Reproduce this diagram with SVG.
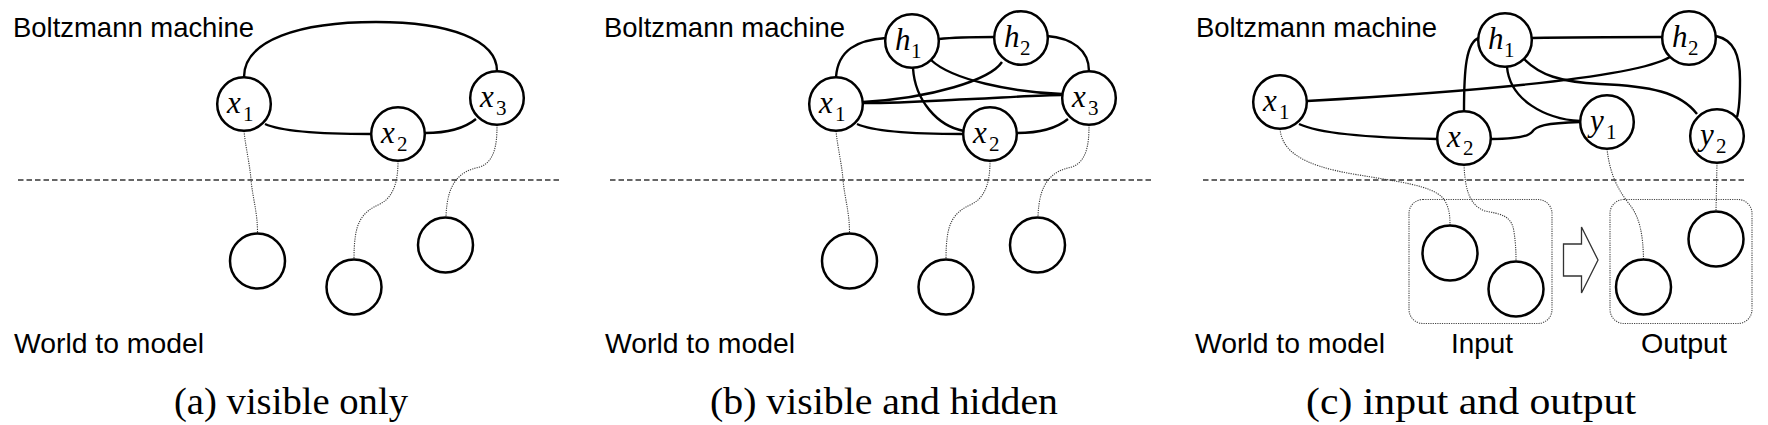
<svg xmlns="http://www.w3.org/2000/svg" width="1768" height="425" viewBox="0 0 1768 425">
<style>
.bg{fill:#fff}
.n{fill:#fff;stroke:#000;stroke-width:2.5}
.e{fill:none;stroke:#000;stroke-width:2.4}
.d{fill:none;stroke:#3a3a3a;stroke-width:1.1;stroke-dasharray:1.2 1.1}
.dash{fill:none;stroke:#666;stroke-width:2;stroke-dasharray:5.5 3}
.box{fill:none;stroke:#444;stroke-width:1.1;stroke-dasharray:1.2 1.1}
.lbl{font-family:'Liberation Sans',Arial,sans-serif;font-size:28px;fill:#000}
.cap{font-family:'Liberation Serif','Times New Roman',serif;font-size:37px;fill:#000}
.v{font-family:'Liberation Serif','Times New Roman',serif;font-style:italic;font-size:31px;fill:#000}
.s{font-style:normal;font-size:21px}
.arr{fill:#fff;stroke:#333;stroke-width:1.3}
</style>
<rect class="bg" x="0" y="0" width="1768" height="425"/>

<!-- Panel (a) -->
<g id="panel-a">
  <text class="lbl" x="13" y="37" textLength="241" lengthAdjust="spacingAndGlyphs">Boltzmann machine</text>
  <text class="lbl" x="14" y="353" textLength="190" lengthAdjust="spacingAndGlyphs">World to model</text>
  <line class="dash" x1="18" y1="180" x2="562" y2="180"/>
  <g id="a-connectors">
    <path class="e" d="M 244 77 C 244 40, 300 22, 376 22 C 450 22, 497 40, 497 71"/>
    <path class="e" d="M 265 124 C 280 131, 320 134, 371 134"/>
    <path class="e" d="M 425 133 C 450 133, 465 128, 476 119"/>
    <path class="d" d="M 244 131 C 246 150, 250 165, 251 180 C 253 200, 257.5 212, 257.5 233"/>
    <path class="d" d="M 398 161 C 398 176, 396 196, 380 204 C 360 213, 354 224, 354 259"/>
    <path class="d" d="M 497 125 C 497 141, 496 161, 480 167 C 460 171, 447 182, 446 217"/>
  </g>
  <g id="a-x1"><circle class="n" cx="244" cy="104" r="26.8"/><text class="v" x="227" y="113">x<tspan class="s" x="243" y="120.5">1</tspan></text></g>
  <g id="a-x2"><circle class="n" cx="398" cy="134" r="26.8"/><text class="v" x="381" y="143">x<tspan class="s" x="397" y="150.5">2</tspan></text></g>
  <g id="a-x3"><circle class="n" cx="497" cy="98" r="26.8"/><text class="v" x="480" y="107">x<tspan class="s" x="496" y="114.5">3</tspan></text></g>
  <g id="a-w1"><circle class="n" cx="257.5" cy="261" r="27.5"/></g>
  <g id="a-w2"><circle class="n" cx="354" cy="287" r="27.5"/></g>
  <g id="a-w3"><circle class="n" cx="445.5" cy="245" r="27.5"/></g>
  <text class="cap" x="174" y="414" textLength="234" lengthAdjust="spacingAndGlyphs">(a) visible only</text>
</g>

<!-- Panel (b) -->
<g id="panel-b" transform="translate(592,0)">
  <text class="lbl" x="12" y="37" textLength="241" lengthAdjust="spacingAndGlyphs">Boltzmann machine</text>
  <text class="lbl" x="13" y="353" textLength="190" lengthAdjust="spacingAndGlyphs">World to model</text>
  <line class="dash" x1="18" y1="180" x2="562" y2="180"/>
  <g id="b-connectors">
    <path class="e" d="M 244 77 C 246 50, 265 40, 294 38"/>
    <path class="e" d="M 347 39 C 365 37, 385 37, 403 37"/>
    <path class="e" d="M 455 36 C 480 38, 497 50, 497 71"/>
    <path class="e" d="M 321 68 C 323 100, 345 126, 372 131"/>
    <path class="e" d="M 339 60 C 360 80, 420 92, 470 94"/>
    <path class="e" d="M 410 62 C 398 80, 340 98, 271 102"/>
    <path class="e" d="M 271 103 C 320 103, 350 100, 380 99 C 420 97, 450 95, 470 95"/>
    <path class="e" d="M 265 124 C 280 131, 320 134, 371 134"/>
    <path class="e" d="M 425 133 C 450 133, 465 128, 476 119"/>
    <path class="d" d="M 244 131 C 246 150, 250 165, 251 180 C 253 200, 257.5 212, 257.5 233"/>
    <path class="d" d="M 398 161 C 398 176, 396 196, 380 204 C 360 213, 354 224, 354 259"/>
    <path class="d" d="M 497 125 C 497 141, 496 161, 480 167 C 460 171, 447 182, 446 217"/>
  </g>
  <g id="b-h1"><circle class="n" cx="320" cy="41" r="26.8"/><text class="v" x="303" y="50">h<tspan class="s" x="319" y="57.5">1</tspan></text></g>
  <g id="b-h2"><circle class="n" cx="429" cy="38" r="26.8"/><text class="v" x="412" y="47">h<tspan class="s" x="428" y="54.5">2</tspan></text></g>
  <g id="b-x1"><circle class="n" cx="244" cy="104" r="26.8"/><text class="v" x="227" y="113">x<tspan class="s" x="243" y="120.5">1</tspan></text></g>
  <g id="b-x2"><circle class="n" cx="398" cy="134" r="26.8"/><text class="v" x="381" y="143">x<tspan class="s" x="397" y="150.5">2</tspan></text></g>
  <g id="b-x3"><circle class="n" cx="497" cy="98" r="26.8"/><text class="v" x="480" y="107">x<tspan class="s" x="496" y="114.5">3</tspan></text></g>
  <g id="b-w1"><circle class="n" cx="257.5" cy="261" r="27.5"/></g>
  <g id="b-w2"><circle class="n" cx="354" cy="287" r="27.5"/></g>
  <g id="b-w3"><circle class="n" cx="445.5" cy="245" r="27.5"/></g>
  <text class="cap" x="118" y="414" textLength="348" lengthAdjust="spacingAndGlyphs">(b) visible and hidden</text>
</g>

<!-- Panel (c) -->
<g id="panel-c">
  <text class="lbl" x="1196" y="37" textLength="241" lengthAdjust="spacingAndGlyphs">Boltzmann machine</text>
  <text class="lbl" x="1195" y="353" textLength="190" lengthAdjust="spacingAndGlyphs">World to model</text>
  <text class="lbl" x="1451" y="353" textLength="62" lengthAdjust="spacingAndGlyphs">Input</text>
  <text class="lbl" x="1641" y="353" textLength="86" lengthAdjust="spacingAndGlyphs">Output</text>
  <line class="dash" x1="1203" y1="180" x2="1747" y2="180"/>
  <g id="c-groups">
    <rect id="c-input-box" class="box" x="1409" y="199.5" width="143" height="124" rx="14"/>
    <rect id="c-output-box" class="box" x="1610" y="199.5" width="142" height="124" rx="14"/>
    <polygon id="c-arrow" class="arr" points="1563.5,244 1581.5,244 1581.5,227 1598,260 1581.5,293 1581.5,276 1563.5,276"/>
  </g>
  <g id="c-connectors">
    <path class="e" d="M 1479 38 C 1466 42, 1464 70, 1464 111"/>
    <path class="e" d="M 1532 38 C 1580 37, 1620 37, 1662 37"/>
    <path class="e" d="M 1716 36 C 1734 40, 1740 55, 1740 80 C 1740 100, 1739 110, 1737 117"/>
    <path class="e" d="M 1507 67 C 1510 100, 1545 119, 1580 121"/>
    <path class="e" d="M 1524 59 C 1540 75, 1560 82, 1600 84 C 1650 86, 1680 92, 1697 114"/>
    <path class="e" d="M 1670 57 C 1640 75, 1500 90, 1307 101"/>
    <path class="e" d="M 1299 124 C 1320 134, 1380 138, 1437 139"/>
    <path class="e" d="M 1491 139 C 1510 139, 1528 137, 1532 132 C 1536 126, 1545 123, 1580 122"/>
    <path class="d" d="M 1280 129 C 1282 150, 1300 165, 1353 174 C 1400 182, 1430 185, 1443 198 C 1449 206, 1450 215, 1450 225"/>
    <path class="d" d="M 1464 165 C 1465 186, 1468 205, 1485 211 C 1500 214, 1512 215, 1514 232 C 1516 245, 1516 255, 1516 261"/>
    <path class="d" d="M 1607 149 C 1610 175, 1618 190, 1630 205 C 1640 218, 1643 235, 1643.5 259"/>
    <path class="d" d="M 1717 163 L 1716 210"/>
  </g>
  <g id="c-h1"><circle class="n" cx="1505" cy="40" r="26.8"/><text class="v" x="1488" y="49">h<tspan class="s" x="1504" y="56.5">1</tspan></text></g>
  <g id="c-h2"><circle class="n" cx="1689" cy="38" r="26.8"/><text class="v" x="1672" y="47">h<tspan class="s" x="1688" y="54.5">2</tspan></text></g>
  <g id="c-x1"><circle class="n" cx="1280" cy="102" r="26.8"/><text class="v" x="1263" y="111">x<tspan class="s" x="1279" y="118.5">1</tspan></text></g>
  <g id="c-x2"><circle class="n" cx="1464" cy="138" r="26.8"/><text class="v" x="1447" y="147">x<tspan class="s" x="1463" y="154.5">2</tspan></text></g>
  <g id="c-y1"><circle class="n" cx="1607" cy="122" r="26.8"/><text class="v" x="1590" y="131">y<tspan class="s" x="1606" y="138.5">1</tspan></text></g>
  <g id="c-y2"><circle class="n" cx="1717" cy="136" r="26.8"/><text class="v" x="1700" y="145">y<tspan class="s" x="1716" y="152.5">2</tspan></text></g>
  <g id="c-in1"><circle class="n" cx="1450" cy="253" r="27.5"/></g>
  <g id="c-in2"><circle class="n" cx="1516" cy="289" r="27.5"/></g>
  <g id="c-out1"><circle class="n" cx="1643.5" cy="287" r="27.5"/></g>
  <g id="c-out2"><circle class="n" cx="1716" cy="239" r="27.5"/></g>
  <text class="cap" x="1306" y="414" textLength="330" lengthAdjust="spacingAndGlyphs">(c) input and output</text>
</g>
</svg>
